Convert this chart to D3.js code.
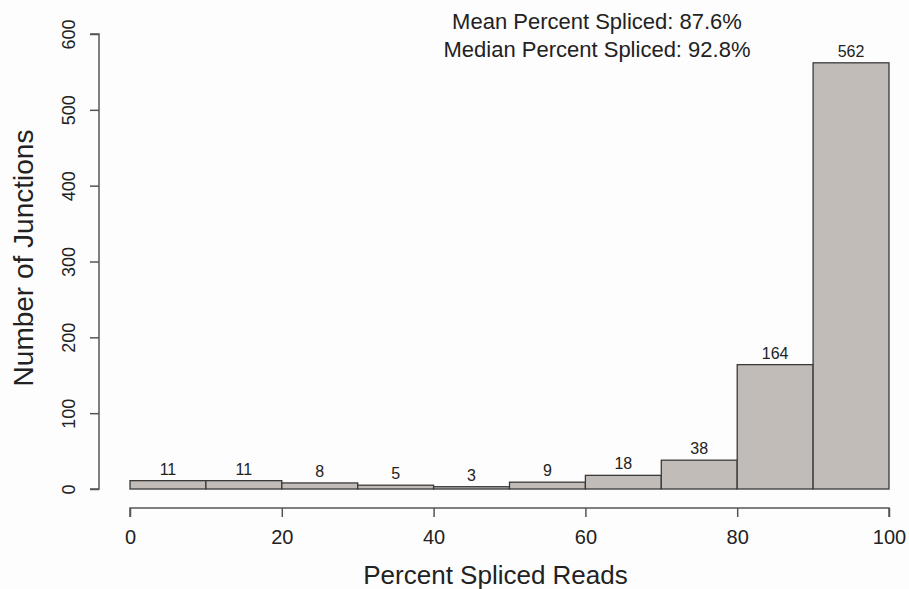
<!DOCTYPE html>
<html>
<head>
<meta charset="utf-8">
<script src="https://cdn.jsdelivr.net/npm/d3@7"></script>
<style>
  html, body { margin: 0; padding: 0; background: #fdfdfd; }
  svg { display: block; font-family: "Liberation Sans", Arial, Helvetica, sans-serif; }
</style>
</head>
<body>
<div id="chart"></div>
<script>
const binStarts = [0, 10, 20, 30, 40, 50, 60, 70, 80, 90];
const binWidth = 10;
const counts = [11, 11, 8, 5, 3, 9, 18, 38, 164, 562];
const xTicks = [0, 20, 40, 60, 80, 100];
const yTicks = [0, 100, 200, 300, 400, 500, 600];
const statLines = ["Mean Percent Spliced: 87.6%", "Median Percent Spliced: 92.8%"];
const xTitle = "Percent Spliced Reads";
const yTitle = "Number of Junctions";

const W = 909, H = 589;
const svg = d3.select("#chart").append("svg").attr("width", W).attr("height", H);
svg.append("rect").attr("width", W).attr("height", H).attr("fill", "#fdfdfd");

const x = d3.scaleLinear().domain([0, 100]).range([130, 889]);
const y = d3.scaleLinear().domain([0, 600]).range([489, 34]);

const axisColor = "#555";
const textColor = "#222";

// bars
svg.append("g").selectAll("rect").data(binStarts).join("rect")
  .attr("x", d => x(d))
  .attr("y", (d, i) => y(counts[i]))
  .attr("width", d => x(d + binWidth) - x(d))
  .attr("height", (d, i) => y(0) - y(counts[i]))
  .attr("fill", "#c2bcb9")
  .attr("stroke", "#3a3a3a")
  .attr("stroke-width", 1.3);

// bar labels
svg.append("g").selectAll("text").data(binStarts).join("text")
  .attr("x", d => x(d + binWidth / 2))
  .attr("y", (d, i) => y(counts[i]) - 6)
  .attr("text-anchor", "middle")
  .attr("font-size", 16)
  .attr("fill", textColor)
  .text((d, i) => counts[i]);

// x axis
const gx = svg.append("g").attr("transform", "translate(0,508)")
  .call(d3.axisBottom(x).tickValues(xTicks).tickSize(9).tickPadding(0).tickFormat(d3.format("d")));
gx.select(".domain").attr("stroke", axisColor).attr("stroke-width", 1.5)
  .attr("d", `M${x(0)},9V0H${x(100)}V9`);
gx.selectAll(".tick line").attr("stroke", axisColor).attr("stroke-width", 1.5);
gx.selectAll(".tick text").attr("font-size", 20).attr("fill", textColor)
  .attr("dy", null).attr("y", 36)
  .attr("font-family", '"Liberation Sans", Arial, sans-serif');

// y axis
const gy = svg.append("g").attr("transform", "translate(99,0)")
  .call(d3.axisLeft(y).tickValues(yTicks).tickSize(9).tickFormat(d3.format("d")));
gy.select(".domain").attr("stroke", axisColor).attr("stroke-width", 1.5)
  .attr("d", `M-9,${y(600)}H0V${y(0)}H-9`);
gy.selectAll(".tick line").attr("stroke", axisColor).attr("stroke-width", 1.5);
gy.selectAll(".tick text")
  .attr("font-size", 18).attr("fill", textColor)
  .attr("font-family", '"Liberation Sans", Arial, sans-serif')
  .attr("x", null).attr("dy", null)
  .attr("text-anchor", "middle")
  .attr("transform", "translate(-24,0) rotate(-90)");

// axis titles
svg.append("text")
  .attr("x", 495.5).attr("y", 584)
  .attr("text-anchor", "middle")
  .attr("font-size", 26)
  .attr("fill", textColor)
  .text(xTitle);

svg.append("text")
  .attr("transform", "translate(33,258) rotate(-90)")
  .attr("text-anchor", "middle")
  .attr("font-size", 28)
  .attr("fill", textColor)
  .text(yTitle);

// stats text
svg.append("g").selectAll("text").data(statLines).join("text")
  .attr("x", 597).attr("y", (d, i) => 29 + i * 28)
  .attr("text-anchor", "middle")
  .attr("font-size", 22)
  .attr("fill", textColor)
  .text(d => d);
</script>
</body>
</html>
